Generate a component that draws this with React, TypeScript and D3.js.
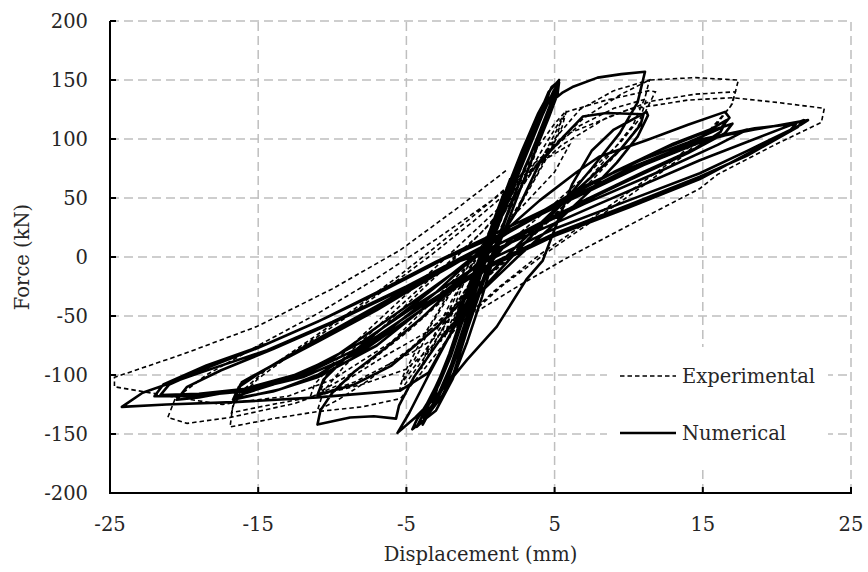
import React from 'react';
import * as d3 from 'd3';

const width = 868;
const height = 572;

const margin = { top: 21, right: 17, bottom: 79, left: 110 };

const xTicks = [-25, -15, -5, 5, 15, 25];
const yTicks = [-200, -150, -100, -50, 0, 50, 100, 150, 200];

// Experimental (dashed), [displacement mm, force kN]
const expSmall = [
  [0, 0], [1.2, 36], [2.5, 74], [2.2, 60], [0.9, 20], [-0.6, -22], [-2.4, -68], [-2.1, -52],
  [-0.8, -12], [0.6, 22], [2.6, 76], [2.3, 58], [0.8, 14], [-1.1, -34], [-2.7, -72], [-2.3, -50],
  [-0.7, -8], [0.8, 20], [2.4, 62], [4, 100], [3.6, 84], [2, 40], [0, -8], [-2.2, -52],
  [-4, -95], [-3.6, -78], [-2, -38], [0, 4]
];
const expCycle6 = [
  [2.2, 55], [3.8, 92], [5, 113], [5.8, 124], [5.5, 110], [4.3, 80], [2.5, 40], [0.5, 0],
  [-1.6, -42], [-3.6, -82], [-5.5, -115], [-5.2, -100], [-3.9, -68], [-2, -28], [0, 8], [2.5, 55],
  [4.5, 98], [5.5, 118], [5.2, 104], [3.8, 70], [1.8, 28], [-0.3, -14], [-2.6, -58], [-4.4, -92],
  [-5.4, -108], [-4.1, -79], [-3.4, -59], [-1.5, -20], [0.8, 22]
];
const expCycle11 = [
  [3, 64], [5, 100], [6.7, 125], [9, 141], [11.4, 150], [11.1, 135], [10.3, 112], [8.6, 85],
  [6.3, 52], [3.8, 22], [1.2, -8], [-1.5, -38], [-4.5, -75], [-7.5, -104], [-9.6, -121], [-11, -130],
  [-10.6, -114], [-9.3, -94], [-6.8, -62], [-3.8, -26], [-0.8, 10], [2, 45], [4.2, 85], [5.8, 123],
  [8.5, 133], [11.4, 141], [11.8, 140], [11.4, 130], [10.6, 110], [9.6, 93], [7.6, 66], [5, 35],
  [2.2, 2], [-0.7, -30], [-3.4, -62], [-6.6, -85], [-9.5, -108], [-11.5, -119], [-11.2, -108],
  [-9.8, -88], [-7, -55], [-4, -20], [-1, 15], [1.8, 48], [4, 82], [6.5, 110], [9, 126],
  [11.2, 134], [10.8, 118], [9.5, 98], [7.2, 70], [4.5, 40], [1.5, 8], [-1.5, -25],
  [-4.8, -62], [-7.8, -92], [-10.8, -114], [-10.4, -100], [-8.6, -78], [-6, -48], [-3, -14],
  [0, 20], [2.5, 55]
];
const expCycle17 = [
  [4.5, 90], [7, 118], [9.5, 138], [11.4, 150], [14.5, 152], [17.4, 150], [17, 130], [15.8, 110],
  [13.5, 84], [10.5, 56], [7.5, 30], [4.5, 4], [1.5, -24], [-1.5, -58], [-3.8, -95], [-5.4, -120],
  [-8, -127], [-11, -131], [-14, -137], [-16.9, -144], [-16.7, -125], [-15, -103], [-12.5, -80],
  [-9.5, -55], [-6.5, -28], [-3.5, 0], [-0.5, 30], [2.5, 62], [5.5, 95], [8.5, 118], [11.5, 132],
  [14.5, 138], [17.2, 140], [16.9, 128], [15.5, 108], [13, 82], [10, 55], [7, 28], [4, 2],
  [1, -28], [-2, -62], [-5, -95], [-8, -108], [-11.5, -119], [-14.5, -126], [-16.8, -132],
  [-16.5, -118], [-14.5, -96], [-11.5, -70], [-8.5, -44], [-5.5, -16], [-2.5, 14], [0.5, 45],
  [3.5, 78]
];
const expCycle23 = [
  [6, 105], [10, 125], [14, 133], [17, 135], [20, 131], [23.2, 126], [23, 114], [20, 96],
  [16, 70], [14.8, 58], [10.5, 30], [5.8, -1], [2.5, -25], [-1, -52], [-4.5, -80], [-8.5, -106],
  [-12.5, -124], [-16.9, -136], [-19.8, -141], [-21.1, -136], [-20.6, -120], [-18.5, -100],
  [-15, -75], [-11, -48], [-7, -18], [-3, 15], [1, 50], [4, 80], [6, 95], [5, 72], [2, 32],
  [-2, -22], [-6, -72], [-10, -104], [-13, -118], [-16.4, -123], [-17.4, -125], [-20, -120],
  [-22.8, -114], [-24.7, -110], [-24.7, -102], [-20, -82], [-15.1, -59], [-10, -27], [-5.4, 6],
  [-1.5, 42], [1.8, 74]
];

// Numerical (solid)
const numSmall = [
  [0, 0], [0.8, 28], [1.6, 55], [1.2, 40], [0, 2], [-0.9, -28], [-1.7, -56], [-1.3, -40],
  [0, -2], [1, 32], [2, 66], [1.5, 48], [0.2, 6], [-1, -34], [-2.1, -68], [-1.6, -50],
  [-0.2, -6], [0.6, 18], [1.9, 48], [3.1, 88], [4.1, 118], [4.9, 140], [5.3, 148], [5.2, 138],
  [4.6, 118], [3.7, 90], [2.7, 58], [1.7, 25], [0.9, 0], [0.1, -34], [-0.9, -72], [-1.9, -104],
  [-3, -130], [-4.6, -146], [-4.3, -138], [-3.5, -122], [-2.8, -104], [-2.1, -82], [-1.2, -48],
  [-0.4, -20], [0.5, 12]
];
const numBand = [
  [1.6, 50], [2.6, 82], [3.6, 112], [4.2, 128], [3.9, 115], [2.9, 84], [1.8, 50], [0.8, 16],
  [-0.2, -20], [-1.1, -58], [-2, -92], [-2.8, -115], [-3.2, -124], [-2.9, -110], [-2.1, -84],
  [-1.2, -50], [-0.3, -14], [0.7, 20], [1.7, 55], [2.8, 90], [3.9, 122], [4.6, 138], [4.3, 124],
  [3.2, 90], [2.1, 56], [1, 20], [0, -16], [-1, -56], [-1.9, -92], [-2.8, -118], [-3.9, -136],
  [-3.6, -124], [-2.7, -102], [-1.8, -74], [-0.9, -40], [0.1, -6], [1.1, 30], [2.2, 66],
  [3.4, 104], [4.6, 140], [5.3, 150], [5.1, 140], [4.2, 110], [3, 76], [2, 42], [1, 8],
  [0.1, -25], [-0.9, -62], [-1.8, -98], [-2.6, -118], [-3.8, -138], [-4.3, -144], [-3.9, -134],
  [-3.1, -112], [-2.3, -90], [-1.5, -62], [-0.6, -28], [0.3, 5], [1.3, 40], [2.4, 76],
  [3.6, 112], [4.8, 144], [5.2, 148], [4.8, 132], [3.8, 100], [2.7, 66], [1.6, 30], [0.6, -4],
  [-0.4, -38], [-1.4, -76], [-2.2, -104], [-3.2, -126], [-3.9, -142], [-3.6, -128],
  [-2.8, -108], [-2, -84], [-1.1, -50], [-0.1, -14], [0.9, 22], [2, 58], [3.1, 94], [4.3, 128]
];
const numCycle11 = [
  [5, 134], [5.5, 139], [6.2, 144], [7.9, 152], [9.5, 155], [11.1, 157], [10.6, 131],
  [9.4, 105], [7.5, 75], [5.5, 45], [3, 12], [0.5, -22], [-1.8, -60], [-3.5, -100],
  [-4.8, -132], [-5.6, -149], [-4.4, -136], [-3.2, -121], [-2, -104], [-0.9, -87], [1.1, -59],
  [3.1, -19], [4.2, -3], [5.2, 30], [6.2, 62], [7.5, 90], [9, 108], [11.2, 123], [11.3, 120],
  [10.6, 102], [9.2, 80], [7.3, 55], [5, 28], [2.5, 0], [0, -30], [-2.5, -66], [-4.5, -102],
  [-5.5, -126], [-5.7, -137], [-7.2, -135], [-8.8, -136], [-11, -142], [-10.8, -130],
  [-10, -115], [-8.5, -97], [-6.5, -78], [-4, -52], [-1.5, -22], [1, 10], [2.5, 40], [4, 80],
  [5.6, 102], [6.9, 119], [8.5, 122], [11, 121], [10.8, 112], [9.5, 92], [7.5, 68], [5, 40],
  [2.5, 10], [0, -22], [-3, -60], [-6, -92], [-8.5, -108], [-11, -117], [-10.6, -104],
  [-9.3, -88], [-7, -64], [-4.5, -40], [-2, -15], [1, 15], [4, 48], [6.5, 72]
];
const numCycle17 = [
  [8, 85], [11.2, 99], [14, 112], [16.5, 123], [16.8, 118], [16.2, 109], [14, 97], [10.8, 82],
  [7, 60], [3, 30], [0, 5], [-3, -30], [-7, -70], [-11, -100], [-13.5, -112], [-16.7, -121],
  [-16.3, -110], [-14.5, -95], [-11, -72], [-7, -45], [-3, -15], [1, 15], [5, 45], [9, 72],
  [12, 90], [14.8, 104], [17, 113], [16.5, 105], [14, 88], [10, 65], [5, 35], [0, 3],
  [-5, -42], [-10, -86], [-14, -108], [-16.5, -118], [-16.1, -106], [-13.5, -88], [-10, -64],
  [-6, -36], [-2, -8], [2, 22], [6, 52], [10, 78], [13, 96], [15.5, 108], [16.6, 116],
  [16.2, 106], [14.5, 92], [11, 72], [7, 48], [3, 20], [0, -5], [-3, -35], [-7, -75],
  [-11, -102], [-14, -114], [-16.6, -120], [-16.2, -108], [-13.8, -90], [-10.5, -66],
  [-6.5, -38], [-2.5, -10], [1.5, 18], [5.5, 46], [10, 75]
];
const numCycle22 = [
  [14.8, 99], [18.5, 108], [22.1, 116], [21.6, 112], [18, 90], [14.8, 71], [10, 48], [5, 24],
  [0, -6], [-4, -38], [-8, -72], [-12, -98], [-16, -112], [-19, -119], [-20.5, -121],
  [-19.8, -110], [-17.5, -96], [-14, -78], [-10, -56], [-6, -32], [-2, -6], [1.3, 8], [8, 45],
  [14.8, 82], [18.5, 100], [21.8, 116], [21.4, 110], [18, 86], [14.8, 68], [10, 44], [5, 20],
  [0, -10], [-4, -42], [-8, -76], [-12, -100], [-16, -112], [-19, -116], [-21.6, -117],
  [-21, -108], [-18.5, -94], [-15, -77], [-11, -55], [-7, -30], [-3, -4], [1, 20], [6, 50],
  [11, 80], [15, 100], [18.5, 109], [21.3, 113], [20.8, 106], [17.5, 84], [14.8, 66],
  [10, 42], [5, 18], [0, -12], [-4, -45], [-8, -80], [-12, -102], [-16, -114], [-19.5, -118],
  [-22, -118], [-21.4, -108], [-18.5, -92], [-14.5, -74], [-10.5, -52], [-6.5, -28],
  [-2.5, -2], [1.5, 20], [6, 48], [11, 78], [15, 98], [18, 108], [16, 95], [12, 72], [7, 45],
  [2, 15], [0, -15], [-1.8, -60], [-3.5, -98], [-5.4, -113], [-11, -119], [-16.7, -123],
  [-21.2, -125], [-24.2, -127], [-22.8, -115], [-18.9, -98], [-14.4, -79], [-10, -55],
  [-5, -25], [0, 8]
];

const expData = [...expSmall, ...expCycle6, ...expCycle11, ...expCycle17, ...expCycle23];
const numData = [...numSmall, ...numBand, ...numCycle11, ...numCycle17, ...numCycle22];

const x = d3.scaleLinear().domain([-25, 25]).range([margin.left, width - margin.right]);
const y = d3.scaleLinear().domain([-200, 200]).range([height - margin.bottom, margin.top]);

const line = d3.line<number[]>()
  .x(d => x(d[0]))
  .y(d => y(d[1]));

const font = '"DejaVu Serif", serif';
const ink = '#262626';

const App = () => {
  const x0 = x(-25);
  const x1 = x(25);
  const y0 = y(-200);
  const y1 = y(200);

  return (
    <svg width={width} height={height} style={{ position: 'absolute', left: 0, top: 0, background: '#fff' }}>
      {/* grid */}
      {yTicks.map(t => (
        <line key={'gy' + t} x1={x0} x2={x1} y1={y(t)} y2={y(t)}
          stroke="#bfbfbf" strokeWidth={1.5} strokeDasharray="9,5" />
      ))}
      {xTicks.map(t => (
        <line key={'gx' + t} x1={x(t)} x2={x(t)} y1={y0} y2={y1}
          stroke="#bfbfbf" strokeWidth={1.5} strokeDasharray="9,5" />
      ))}

      {/* legend box */}
      <rect x={607} y={347} width={221} height={118} fill="#fff" />

      {/* series */}
      <path d={line(numData) ?? ''} fill="none" stroke="#000" strokeWidth={2.6} strokeLinejoin="round" />
      <path d={line(expData) ?? ''} fill="none" stroke="#000" strokeWidth={1.6} strokeDasharray="4.5,3" />

      {/* axes */}
      <line x1={x0} x2={x0} y1={y1} y2={y0 + 1} stroke="#000" strokeWidth={2} />
      <line x1={x0 - 1} x2={x1 + 1} y1={y0} y2={y0} stroke="#000" strokeWidth={2} />
      {yTicks.map(t => (
        <g key={'ty' + t}>
          <line x1={x0} x2={x0 + 6} y1={y(t)} y2={y(t)} stroke="#000" strokeWidth={2} />
          <text x={88} y={y(t)} dy="0.35em" textAnchor="end" fontFamily={font} fontSize={19.5} fill={ink}>{t}</text>
        </g>
      ))}
      {xTicks.map(t => (
        <g key={'tx' + t}>
          <line x1={x(t)} x2={x(t)} y1={y0} y2={y0 - 6} stroke="#000" strokeWidth={2} />
          <text x={x(t)} y={531} textAnchor="middle" fontFamily={font} fontSize={19.5} fill={ink}>{t}</text>
        </g>
      ))}

      {/* titles */}
      <text x={(x0 + x1) / 2} y={561} textAnchor="middle" fontFamily={font} fontSize={19.5} fill={ink}>
        Displacement (mm)
      </text>
      <text transform={`translate(29, ${(y0 + y1) / 2}) rotate(-90)`} textAnchor="middle" fontFamily={font} fontSize={19.5} fill={ink}>
        Force (kN)
      </text>

      {/* legend */}
      <line x1={620} x2={676} y1={376} y2={376} stroke="#000" strokeWidth={1.6} strokeDasharray="4.5,3" />
      <text x={682} y={383} fontFamily={font} fontSize={19.5} fill={ink}>Experimental</text>
      <line x1={620} x2={676} y1={433} y2={433} stroke="#000" strokeWidth={2.6} />
      <text x={682} y={440} fontFamily={font} fontSize={19.5} fill={ink}>Numerical</text>
    </svg>
  );
};

export default App;
